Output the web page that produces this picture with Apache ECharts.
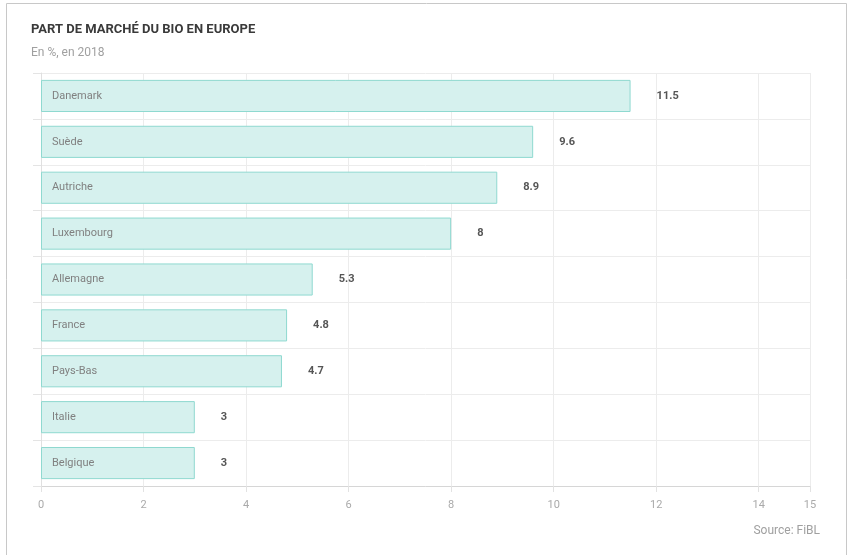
<!DOCTYPE html>
<html>
<head>
<meta charset="utf-8">
<script src="https://cdn.jsdelivr.net/npm/echarts@6/dist/echarts.min.js"></script>
<style>
  html, body { margin: 0; padding: 0; background: #fff; }
  #chart { width: 848px; height: 555px; }
</style>
</head>
<body>
<div id="chart"></div>
<script>
const countries = ['Danemark', 'Suède', 'Autriche', 'Luxembourg', 'Allemagne', 'France', 'Pays-Bas', 'Italie', 'Belgique'];
const shares = [11.5, 9.6, 8.9, 8, 5.3, 4.8, 4.7, 3, 3];

const chart = echarts.init(document.getElementById('chart'));

chart.setOption({
  textStyle: { fontFamily: 'Roboto, sans-serif' },
  animation: false,
  title: {
    text: 'PART DE MARCHÉ DU BIO EN EUROPE',
    subtext: 'En %, en 2018',
    left: 26,
    top: 18,
    itemGap: 11,
    textStyle: { fontSize: 13, fontWeight: 'bold', color: '#3a3a3a' },
    subtextStyle: { fontSize: 12, color: '#a0a0a0' }
  },
  graphic: [
    {
      type: 'rect',
      shape: { x: 6.5, y: 3.5, width: 840, height: 560 },
      style: { fill: 'none', stroke: '#c8c8c8', lineWidth: 1 },
      silent: true
    },
    {
      type: 'text',
      right: 28,
      top: 525,
      style: { text: 'Source: FiBL', fontSize: 12, fill: '#a0a0a0', fontFamily: 'Roboto, sans-serif' }
    }
  ],
  grid: { left: 41, right: 38, top: 73, bottom: 69 },
  xAxis: {
    type: 'value',
    min: 0,
    max: 15,
    interval: 2,
    axisLine: { show: true, lineStyle: { color: '#d6d6d6' } },
    axisTick: { show: true, length: 6, lineStyle: { color: '#e2e2e2' } },
    axisLabel: { color: '#aaaaaa', fontSize: 11, margin: 14 },
    splitLine: { show: true, lineStyle: { color: '#ececec' } }
  },
  yAxis: {
    type: 'category',
    data: countries,
    inverse: true,
    axisLine: { show: true, lineStyle: { color: '#e0e0e0' } },
    axisTick: { show: true, length: 8, lineStyle: { color: '#e4e4e4' } },
    axisLabel: { show: false },
    splitLine: { show: true, lineStyle: { color: '#ececec' } }
  },
  series: [
    {
      type: 'bar',
      data: shares,
      barCategoryGap: '30%',
      itemStyle: { color: '#d6f1ee', borderColor: '#8fd9d0', borderWidth: 1 },
      label: {
        show: true,
        position: 'insideLeft',
        distance: 11,
        formatter: (p) => p.name,
        color: '#808080',
        fontSize: 11
      }
    },
    {
      type: 'bar',
      data: shares,
      barGap: '-100%',
      barCategoryGap: '30%',
      itemStyle: { color: 'rgba(0,0,0,0)' },
      label: {
        show: true,
        position: 'right',
        distance: 26,
        color: '#555555',
        fontSize: 11,
        fontWeight: 'bold'
      },
      silent: true
    }
  ]
});
</script>
</body>
</html>
